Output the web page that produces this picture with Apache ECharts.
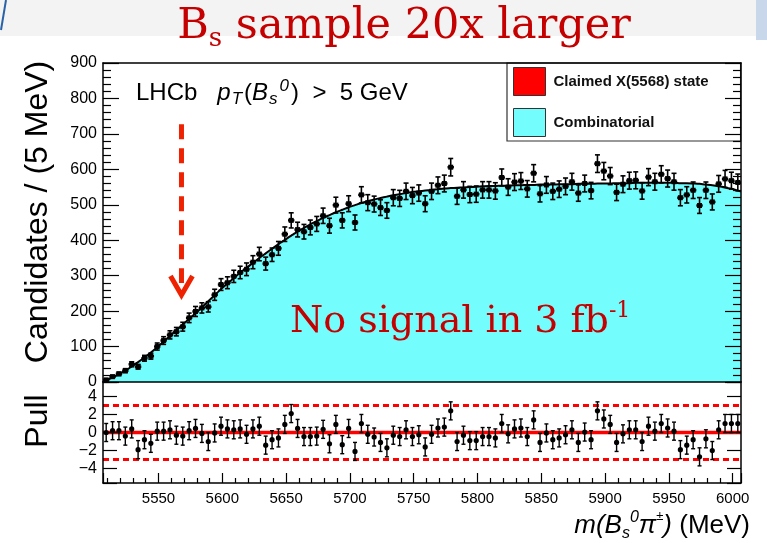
<!DOCTYPE html>
<html><head><meta charset="utf-8">
<script src="https://cdn.jsdelivr.net/npm/echarts@6/dist/echarts.min.js"></script>
<style>html,body{margin:0;padding:0;background:#fff}#c{width:767px;height:543px}</style>
</head><body><div id="c"></div>
<script>
// ---- data ----
const massBins = [5509,5514,5519,5524,5529,5534,5539,5544,5549,5554,
  5559,5564,5569,5574,5579,5584,5589,5594,5599,5604,
  5609,5614,5619,5624,5629,5634,5639,5644,5649,5654,
  5659,5664,5669,5674,5679,5684,5689,5694,5699,5704,
  5709,5714,5719,5724,5729,5734,5739,5744,5749,5754,
  5759,5764,5769,5774,5779,5784,5789,5794,5799,5804,
  5809,5814,5819,5824,5829,5834,5839,5844,5849,5854,
  5859,5864,5869,5874,5879,5884,5889,5894,5899,5904,
  5909,5914,5919,5924,5929,5934,5939,5944,5949,5954,
  5959,5964,5969,5974,5979,5984,5989,5994,5999,6004];
const candidates = [6,15,23,32,50,43,67,73,100,117,
  133,142,156,181,199,209,212,246,275,280,
  298,309,318,338,361,334,359,377,417,456,
  430,424,436,446,469,441,499,456,503,450,
  528,506,502,492,484,520,518,538,526,533,
  503,538,555,560,606,524,542,529,530,542,
  542,539,577,550,564,567,545,589,531,556,
  538,544,552,565,533,560,540,616,595,581,
  535,558,568,569,539,578,565,586,574,565,
  520,528,541,498,541,508,559,573,568,563];
const combinatorialFit = [5,13,22,32,44,56,69,83,98,114,
  130,146,162,178,194,211,228,245,262,278,
  293,308,322,336,350,363,376,389,401,413,
  424,435,445,454,463,471,479,486,493,499,
  505,510,515,519,523,527,530,533,536,538,
  540,542,544,546,547,548,549,550,551,552,
  553,553,554,554,555,555,556,556,557,557,
  557,558,558,558,559,559,559,560,560,560,
  561,561,561,562,562,562,562,562,562,562,
  561,561,560,559,557,555,552,549,545,540];
const pulls = [0.0,0.2,0.2,-0.4,0.4,-1.9,-0.8,-1.2,0.15,0.15,
  0.3,-0.3,-0.4,0.2,0.45,-0.1,-1.0,-0.05,0.7,0.4,
  0.3,0.4,-0.2,0.4,0.7,-1.4,-0.8,-0.6,0.9,2.1,
  0.45,-0.45,-0.45,-0.4,0.35,-1.25,0.9,-1.35,0.45,-2.1,
  1.0,-0.2,-0.5,-1.1,-1.7,-0.3,-0.45,0.3,-0.45,-0.25,
  -1.6,-0.2,0.5,0.6,2.4,-1.0,-0.3,-0.9,-0.9,-0.45,
  -0.45,-0.6,1.0,-0.15,0.4,0.5,-0.45,1.4,-1.1,-0.05,
  -0.8,-0.6,-0.25,0.3,-1.1,0.05,-0.8,2.4,1.5,0.9,
  -1.1,-0.15,0.3,0.3,-1.0,0.7,0.15,1.0,0.5,0.15,
  -1.9,-1.4,-0.8,-2.7,-0.7,-2.0,0.3,1.0,1.0,1.0];
const massRange = [5506.5, 6006.5];
const fitAtEdges = [0, 537];
const binHalfWidth = 2.5;
const pullLevels = [0, 3, -3];
const pullRange = [-5.6, 5.6];
const pullError = 1;
const claimedMass = 5568;
const arrowFrom = 727, arrowTo = 240;
const seriesNames = ['Claimed X(5568) state', 'Combinatorial'];
const titleText = 'sample 20x larger';
const noteText = 'No signal in 3 fb';

// ---- styles ----
const CYAN = '#74fdfd';
const RED = '#ff0000';
const DARKRED = '#c40000';
const SANS = 'Liberation Sans, Arial, Helvetica, sans-serif';
const SERIF = 'DejaVu Serif, serif';

const fitPoints = [[massRange[0], fitAtEdges[0]]]
  .concat(massBins.map((m, i) => [m, combinatorialFit[i]]))
  .concat([[massRange[1], fitAtEdges[1]]]);
const dataPoints = massBins.map((m, i) => [m, candidates[i], Math.sqrt(candidates[i])]);
const pullPoints = massBins.map((m, i) => [m, pulls[i], pullError]);

function renderData(params, api) {
  const x = api.value(0), y = api.value(1), e = api.value(2);
  const c = api.coord([x, y]), t = api.coord([x, y + e]), b = api.coord([x, y - e]);
  const l = api.coord([x - binHalfWidth, y]), r = api.coord([x + binHalfWidth, y]);
  const st = {stroke: '#000', lineWidth: 1.6};
  return {type: 'group', children: [
    {type: 'line', shape: {x1: c[0], y1: t[1], x2: c[0], y2: b[1]}, style: st},
    {type: 'line', shape: {x1: c[0] - 2.5, y1: t[1], x2: c[0] + 2.5, y2: t[1]}, style: st},
    {type: 'line', shape: {x1: c[0] - 2.5, y1: b[1], x2: c[0] + 2.5, y2: b[1]}, style: st},
    {type: 'line', shape: {x1: l[0], y1: c[1], x2: r[0], y2: c[1]}, style: {stroke: '#000', lineWidth: 2.4}},
    {type: 'rect', shape: {x: c[0] - 2.5, y: c[1] - 2.5, width: 5, height: 5}, style: {fill: '#000'}}
  ]};
}
function renderPull(params, api) {
  const x = api.value(0), y = api.value(1), e = api.value(2);
  const c = api.coord([x, y]), t = api.coord([x, y + e]), b = api.coord([x, y - e]);
  const st = {stroke: '#000', lineWidth: 1.4};
  return {type: 'group', children: [
    {type: 'line', shape: {x1: c[0], y1: t[1], x2: c[0], y2: b[1]}, style: st},
    {type: 'line', shape: {x1: c[0] - 2, y1: t[1], x2: c[0] + 2, y2: t[1]}, style: st},
    {type: 'line', shape: {x1: c[0] - 2, y1: b[1], x2: c[0] + 2, y2: b[1]}, style: st},
    {type: 'circle', shape: {cx: c[0], cy: c[1], r: 2.6}, style: {fill: '#000'}}
  ]};
}

const axLine = {show: true, onZero: false, lineStyle: {color: '#000', width: 1.5}};
const noLine = {show: false, onZero: false};
const tickSt = {color: '#000', width: 1.2};
const labelSt = {color: '#000', fontFamily: SANS, fontSize: 16, margin: 6};
const off = {show: false};

function massAxis(grid, pos, opts) {
  return Object.assign({type: 'value', gridIndex: grid, min: massRange[0], max: massRange[1], position: pos,
    splitNumber: 10, axisLine: noLine, axisTick: off, axisLabel: off, splitLine: off, minorSplitLine: off, z: 10}, opts);
}
function countAxis(pos, opts) {
  return Object.assign({type: 'value', gridIndex: 0, min: 0, max: 900, interval: 100, position: pos, offset: 0,
    axisLine: noLine, axisTick: off, axisLabel: off, splitLine: off, minorSplitLine: off, z: 10}, opts);
}
function pullAxis(pos, opts) {
  return Object.assign({type: 'value', gridIndex: 1, min: pullRange[0], max: pullRange[1], splitNumber: 5, position: pos, offset: 0,
    axisLine: noLine, axisTick: off, axisLabel: off, splitLine: off, minorSplitLine: off, z: 10}, opts);
}
const majorIn = len => ({show: true, inside: true, length: len, lineStyle: tickSt});
const minorIn = len => ({show: true, splitNumber: 5, length: len, lineStyle: tickSt});

const chart = echarts.init(document.getElementById('c'), null, {renderer: 'canvas'});
chart.setOption({
  animation: false,
  backgroundColor: '#fff',
  grid: [
    {left: 103, top: 63, width: 638, height: 319},
    {left: 103, top: 382, width: 638, height: 101}
  ],
  xAxis: [
    massAxis(0, 'bottom', {axisLine: axLine}),
    massAxis(0, 'top', {axisLine: axLine}),
    massAxis(1, 'bottom', {axisLine: axLine, axisTick: majorIn(10), minorTick: minorIn(5)}),
    massAxis(1, 'bottom', {axisLabel: {show: true, color: '#000', fontFamily: SANS, fontSize: 15, margin: 8,
      showMinLabel: false, showMaxLabel: false, formatter: v => String(v)}})
  ],
  yAxis: [
    countAxis('left', {axisLine: axLine, axisLabel: labelSt}),
    countAxis('left', {axisTick: majorIn(16), minorTick: minorIn(8)}),
    countAxis('right', {axisLine: axLine, axisTick: majorIn(16), minorTick: minorIn(8)}),
    pullAxis('left', {axisLine: axLine, axisLabel: Object.assign({}, labelSt, {showMinLabel: false, showMaxLabel: false,
      formatter: v => (Math.abs(v) > 5 ? '' : (v < 0 ? '\u2212' + (-v) : String(v)))})}),
    pullAxis('left', {axisTick: majorIn(14)}),
    pullAxis('right', {axisLine: axLine, axisTick: majorIn(14)})
  ],
  legend: {
    left: 507, top: 63, orient: 'vertical', itemWidth: 32, itemHeight: 28, itemGap: 12,
    padding: [4, 32, 4, 6], borderColor: '#333', borderWidth: 1.2, backgroundColor: '#fff',
    selectedMode: false,
    textStyle: {fontFamily: SANS, fontWeight: 'bold', fontSize: 15, color: '#111', padding: [0, 0, 0, 3]},
    data: [
      {name: seriesNames[0], icon: 'rect', itemStyle: {color: RED, borderColor: '#333', borderWidth: 1}},
      {name: seriesNames[1], icon: 'rect', itemStyle: {color: CYAN, borderColor: '#333', borderWidth: 1}}
    ]
  },
  series: [
    {name: seriesNames[1], type: 'line', xAxisIndex: 0, yAxisIndex: 0, data: fitPoints,
      showSymbol: false, smooth: 0.2, color: CYAN,
      lineStyle: {color: '#000', width: 2}, areaStyle: {color: CYAN, opacity: 1}, z: 2},
    {name: seriesNames[0], type: 'line', xAxisIndex: 0, yAxisIndex: 0, data: [], color: RED},
    {name: 'data', type: 'custom', xAxisIndex: 0, yAxisIndex: 0, data: dataPoints,
      renderItem: renderData, encode: {x: 0, y: 1}, clip: true, z: 5},
    ...pullLevels.map((lv, k) => ({
      name: 'pull' + k, type: 'line', xAxisIndex: 2, yAxisIndex: 3, color: RED,
      data: [[massRange[0], lv], [massRange[1], lv]], showSymbol: false, silent: true,
      lineStyle: {color: RED, width: k === 0 ? 3.5 : 3, type: k === 0 ? 'solid' : [6, 4]}, z: 3
    })),
    {name: 'pulls', type: 'custom', xAxisIndex: 2, yAxisIndex: 3, data: pullPoints,
      renderItem: renderPull, encode: {x: 0, y: 1}, clip: true, z: 5}
  ]
});

// ---- annotations ----
const px = v => chart.convertToPixel({xAxisIndex: 0, yAxisIndex: 0}, v);
const aTop = px([claimedMass, arrowFrom]);
const aTip = px([claimedMass, arrowTo]);
chart.setOption({
  graphic: [
    {type: 'rect', shape: {x: 0, y: 0, width: 767, height: 36}, style: {fill: '#f3f3f3'}, z: -1},
    {type: 'rect', shape: {x: 756, y: 0, width: 11, height: 40}, style: {fill: '#c9d7ea'}, z: -1},
    {type: 'line', shape: {x1: 1, y1: 30, x2: 6, y2: 0}, style: {stroke: '#2a62a8', lineWidth: 2}},
    {type: 'text', x: 404, y: 2, style: {
      text: '{a|B}{s|s}{a| ' + titleText + '}', align: 'center', verticalAlign: 'top',
      rich: {
        a: {fontFamily: SERIF, fontSize: 43, fill: DARKRED, lineHeight: 50},
        s: {fontFamily: SERIF, fontSize: 26, fill: DARKRED, lineHeight: 16, verticalAlign: 'bottom'}
      }}},
    {type: 'text', x: 136, y: 93, z: 20, style: {
      text: '{r|LHCb}{r|   }{i|p}{sb|T}{r|(}{i|B}{sb|s}{sp|0}{r|)  >  5 GeV}',
      align: 'left', verticalAlign: 'middle',
      rich: {
        r: {fontFamily: SANS, fontSize: 24, fill: '#000', lineHeight: 30},
        i: {fontFamily: SANS, fontSize: 24, fontStyle: 'italic', fill: '#000', lineHeight: 30},
        sb: {fontFamily: SANS, fontSize: 17, fontStyle: 'italic', fill: '#000', lineHeight: 12, verticalAlign: 'bottom', padding: [0, 2, 0, 1]},
        sp: {fontFamily: SANS, fontSize: 17, fontStyle: 'italic', fill: '#000', lineHeight: 12, verticalAlign: 'top', padding: [0, 2, 0, 0]}
      }}},
    {type: 'line', z: 20, shape: {x1: aTop[0], y1: aTop[1], x2: aTip[0], y2: aTip[1] - 14},
      style: {stroke: '#ee2200', lineWidth: 5, lineDash: [15, 9]}},
    {type: 'polyline', z: 20, shape: {points: [[aTip[0] - 11, aTip[1] - 21], [aTip[0], aTip[1] - 2], [aTip[0] + 11, aTip[1] - 21]]},
      style: {stroke: '#ee2200', lineWidth: 5, fill: null, lineJoin: 'miter'}},
    {type: 'text', x: 290, y: 322, z: 20, style: {
      text: '{a|' + noteText + '}{p|-1}', align: 'left', verticalAlign: 'middle',
      rich: {
        a: {fontFamily: SERIF, fontSize: 38, fill: DARKRED, lineHeight: 44},
        p: {fontFamily: SERIF, fontSize: 22, fill: DARKRED, lineHeight: 22, verticalAlign: 'top'}
      }}},
    {type: 'text', x: 38, y: 212, rotation: Math.PI / 2, style: {
      text: 'Candidates / (5 MeV)', fontFamily: SANS, fontSize: 32, fill: '#000', align: 'center', verticalAlign: 'middle'}},
    {type: 'text', x: 38, y: 421, rotation: Math.PI / 2, style: {
      text: 'Pull', fontFamily: SANS, fontSize: 32, fill: '#000', align: 'center', verticalAlign: 'middle'}},
    {type: 'text', x: 750, y: 526, style: {
      text: '{i|m(B}{sb|s}{sp|0}{i|\u03c0}{sp2|\u00b1}{i|)}{r| (MeV)}', align: 'right', verticalAlign: 'middle',
      rich: {
        i: {fontFamily: SANS, fontSize: 26, fontStyle: 'italic', fill: '#000', lineHeight: 32},
        r: {fontFamily: SANS, fontSize: 26, fill: '#000', lineHeight: 32},
        sb: {fontFamily: SANS, fontSize: 16, fontStyle: 'italic', fill: '#000', lineHeight: 12, verticalAlign: 'bottom'},
        sp: {fontFamily: SANS, fontSize: 16, fontStyle: 'italic', fill: '#000', lineHeight: 14, verticalAlign: 'top'},
        sp2: {fontFamily: SANS, fontSize: 13, fill: '#000', lineHeight: 14, verticalAlign: 'top'}
      }}}
  ]
});
</script></body></html>
